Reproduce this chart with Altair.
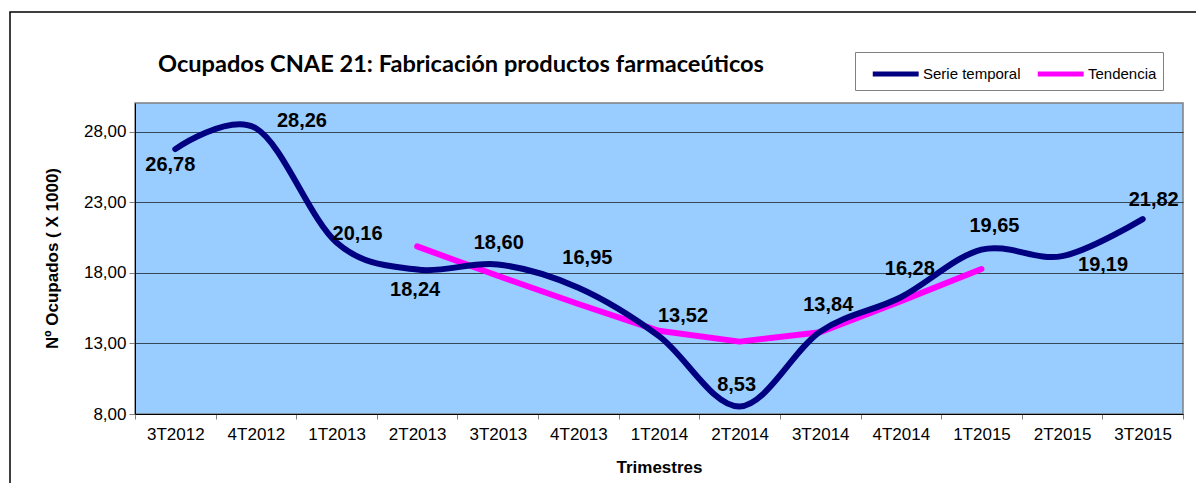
import altair as alt
import pandas as pd

QUARTERS = ["3T2012", "4T2012", "1T2013", "2T2013", "3T2013", "4T2013", "1T2014",
            "2T2014", "3T2014", "4T2014", "1T2015", "2T2015", "3T2015"]
SERIE = [26.78, 28.26, 20.16, 18.24, 18.60, 16.95, 13.52, 8.53, 13.84, 16.28, 19.65, 19.19, 21.82]
TREND_QUARTERS = ["2T2013", "3T2013", "4T2013", "1T2014", "2T2014", "3T2014", "4T2014", "1T2015"]
TREND = [19.88, 17.80, 15.80, 13.90, 13.13, 13.80, 16.00, 18.28]
Y_TICKS = [8, 13, 18, 23, 28]
TITLE = "Ocupados CNAE 21: Fabricación productos farmaceúticos"

# label offsets (pixels) for the value labels, as placed in the original
LABEL_DX = [-5, 46, 21, -2, 1, 9, 24, -3, 8, 9, 13, 41, 11]
LABEL_DY = [16, -7, -8, 20, -21, -30, -20, -22, -27, -28, -24, 9, -19]

S1, S2 = "Serie temporal", "Tendencia"

df_s = pd.DataFrame({"q": QUARTERS, "v": SERIE, "s": S1})
df_t = pd.DataFrame({"q": TREND_QUARTERS, "v": TREND, "s": S2})

FONT = "Liberation Sans"

x_enc = alt.X("q:O", sort=QUARTERS, bandPosition=0.5,
              scale=alt.Scale(type="band", domain=QUARTERS, paddingInner=0, paddingOuter=0),
              axis=alt.Axis(title="Trimestres", labelAngle=0, tickBand="extent",
                            tickSize=5, tickColor="#808080", domainColor="#000000",
                            labelFont=FONT, labelFontSize=17, labelPadding=7, labelColor="#000000",
                            titleFont=FONT, titleFontSize=17, titleFontWeight="bold",
                            titleX=524, titleY=53, titleBaseline="middle"))
y_scale = alt.Scale(domain=[8, 30.05], nice=False, zero=False)
y_enc = alt.Y("v:Q", scale=y_scale,
              axis=alt.Axis(title="Nº Ocupados ( X 1000)", values=Y_TICKS,
                            labelExpr="replace(format(datum.value, '.2f'), '.', ',')",
                            grid=True, gridColor="#000000", gridOpacity=0.65, gridWidth=1,
                            tickSize=6, tickColor="#808080", domainColor="#000000",
                            labelFont=FONT, labelFontSize=17, labelPadding=3, labelColor="#000000",
                            titleFont=FONT, titleFontSize=17, titleFontWeight="bold",
                            titleX=-83, titleY=155, titleAngle=270, titleBaseline="middle"))

color = alt.Color("s:N", scale=alt.Scale(domain=[S1, S2], range=["#000080", "#FF00FF"]),
                  legend=alt.Legend(title=None, orient="none", legendX=720, legendY=-51,
                                    direction="horizontal", symbolType="M-0.32,0H3.15",
                                    symbolSize=700, symbolStrokeWidth=5,
                                    labelFont=FONT, labelFontSize=15, labelColor="#000000",
                                    labelOffset=30, columnPadding=5, padding=6,
                                    strokeColor="#808080", fillColor="#FFFFFF"))

frame = alt.Chart(pd.DataFrame({"a": [0]})).mark_rect(
    fill="transparent", stroke="#000000", strokeWidth=1.5
).encode(x=alt.value(-125), x2=alt.value(3000), y=alt.value(-91), y2=alt.value(3000))

title = alt.Chart(pd.DataFrame({"t": [TITLE]})).mark_text(
    font="Lato", fontSize=23.6, fontWeight="bold", color="#000000",
    align="left", baseline="alphabetic"
).encode(x=alt.value(23), y=alt.value(-31), text="t:N")

serie_line = alt.Chart(df_s).mark_line(
    interpolate="cardinal", strokeWidth=6, strokeCap="round", strokeJoin="round"
).encode(x=x_enc, y=y_enc, color=color)

trend_line = alt.Chart(df_t).mark_line(
    strokeWidth=6, strokeCap="round", strokeJoin="round"
).encode(x=x_enc, y=y_enc, color=color)

labels = []
for i, q in enumerate(QUARTERS):
    labels.append(
        alt.Chart(df_s).transform_filter(alt.datum.q == q)
        .transform_calculate(lbl="replace(format(datum.v, '.2f'), '.', ',')")
        .mark_text(font=FONT, fontSize=20, fontWeight="bold", color="#000000",
                   dx=LABEL_DX[i], dy=LABEL_DY[i], baseline="middle", align="center")
        .encode(x=x_enc, y=y_enc, text="lbl:N")
    )

chart = alt.layer(frame, title, trend_line, serie_line, *labels).properties(
    width=1048, height=311,
    autosize=alt.AutoSizeParams(type="none"),
    padding={"left": 127, "top": 95, "right": 13, "bottom": 69},
    background="#FFFFFF",
).configure_view(fill="#99CCFF", stroke="#808080", strokeWidth=1.5)

chart.save("out.html", embed_options={"renderer": "svg", "actions": False})
